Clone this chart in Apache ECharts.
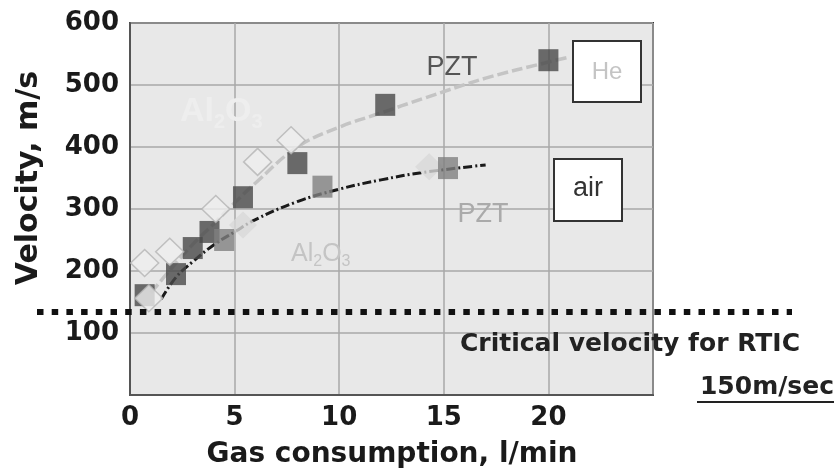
<!DOCTYPE html>
<html>
<head>
<meta charset="utf-8">
<script src="https://cdn.jsdelivr.net/npm/echarts@6/dist/echarts.min.js"></script>
<style>
  html, body { margin: 0; padding: 0; background: #ffffff; }
  #chart { width: 835px; height: 473px; }
</style>
</head>
<body>
<div id="chart"></div>
<script>
// ---- data ----
const xTicks = [0, 5, 10, 15, 20];
const yTicks = [100, 200, 300, 400, 500, 600];

// He carrier gas, Al2O3 (hollow diamonds)
const heAl2o3X = [0.9, 0.7, 1.9, 4.1, 6.1, 7.7];
const heAl2o3Y = [156, 213, 231, 300, 376, 411];
// air carrier gas, Al2O3 (light grey diamonds)
const airAl2o3X = [5.4, 14.3];
const airAl2o3Y = [274, 368];
// He carrier gas, PZT (dark squares)
const hePztX = [0.7, 2.2, 3.0, 3.8, 5.4, 8.0, 12.2, 20.0];
const hePztY = [161, 195, 237, 263, 319, 374, 468, 540];
// air carrier gas, PZT (grey squares)
const airPztX = [4.5, 9.2, 15.2];
const airPztY = [250, 336, 366];

// hand-drawn trend curves
const heFitX = [1, 2, 3, 4, 5, 6, 8, 10, 12, 14, 17, 20, 21];
const heFitY = [165, 205, 243, 276, 310, 342, 400, 432, 455, 478, 511, 537, 545];
const airFitX = [1.5, 2.2, 3, 4, 5, 6, 8, 10, 12, 14, 17];
const airFitY = [155, 190, 215, 242, 263, 283, 312, 332, 347, 359, 371];

const criticalVelocity = 134;

const pairs = (xs, ys) => xs.map((x, i) => [x, ys[i]]);

const chart = echarts.init(document.getElementById('chart'), null, { renderer: 'canvas' });
const FONT = '"Liberation Sans", Arial, sans-serif';
const BFONT = '"DejaVu Sans", Verdana, sans-serif';

const option = {
  animation: false,
  backgroundColor: '#ffffff',
  grid: {
    left: 130, right: 182, top: 23, bottom: 78,
    show: true, backgroundColor: '#e8e8e8', borderColor: '#333333', borderWidth: 2
  },
  xAxis: {
    type: 'value', min: 0, max: 25, interval: 5,
    axisLine: { show: true, lineStyle: { color: '#555555', width: 2 } },
    axisTick: { show: false },
    splitLine: { show: true, lineStyle: { color: '#a8a8a8', width: 1.5 } },
    axisLabel: {
      margin: 10, color: '#1a1a1a', fontFamily: BFONT, fontWeight: 'bold', fontSize: 26,
      formatter: v => xTicks.includes(v) ? String(v) : ''
    }
  },
  yAxis: {
    type: 'value', min: 0, max: 600, interval: 100,
    axisLine: { show: true, lineStyle: { color: '#555555', width: 2 } },
    axisTick: { show: false },
    splitLine: { show: true, lineStyle: { color: '#a8a8a8', width: 1.5 } },
    axisLabel: {
      margin: 11, color: '#1a1a1a', fontFamily: BFONT, fontWeight: 'bold', fontSize: 26,
      formatter: v => yTicks.includes(v) ? String(v) : ''
    }
  },
  series: [
    {
      type: 'line', data: pairs(heFitX, heFitY), smooth: 0.4, showSymbol: false, z: 1,
      lineStyle: { color: '#c4c4c4', width: 3.5, type: [11, 4] }
    },
    {
      type: 'line', data: pairs(airFitX, airFitY), smooth: 0.4, showSymbol: false, z: 1,
      lineStyle: { color: '#1a1a1a', width: 3, type: [9, 3, 2, 3] }
    },
    {
      type: 'scatter', data: pairs(airAl2o3X, airAl2o3Y), symbol: 'diamond', symbolSize: [28, 27], z: 3,
      itemStyle: { color: '#d8d8d8' }
    },
    {
      type: 'scatter', data: pairs(hePztX, hePztY), symbol: 'rect', symbolSize: [20, 22], z: 4,
      itemStyle: { color: '#484848' }
    },
    {
      type: 'scatter', data: pairs(airPztX, airPztY), symbol: 'rect', symbolSize: [20, 22], z: 4,
      itemStyle: { color: '#808080' }
    },
    {
      type: 'scatter', data: pairs(heAl2o3X, heAl2o3Y), symbol: 'diamond', symbolSize: [28, 27], z: 5,
      itemStyle: { color: '#eeeeee', borderColor: '#b4b4b4', borderWidth: 1.5 }
    }
  ]
};
chart.setOption(option);

const yc = chart.convertToPixel({ gridIndex: 0 }, [0, criticalVelocity])[1];

chart.setOption({
  graphic: [
    { type: 'text', x: 29, y: 178, rotation: Math.PI / 2, z: 10,
      style: { text: 'Velocity, m/s', fill: '#1a1a1a', font: 'bold 30px ' + BFONT, align: 'center', verticalAlign: 'middle' } },
    { type: 'text', x: 392, y: 455, z: 10,
      style: { text: 'Gas consumption, l/min', fill: '#1a1a1a', font: 'bold 28px ' + BFONT, align: 'center', verticalAlign: 'middle' } },
    // critical velocity dotted line
    { type: 'line', z: 20, shape: { x1: 37, y1: yc, x2: 792, y2: yc },
      style: { stroke: '#111111', lineWidth: 6, lineDash: [6.5, 8.2], lineCap: 'butt' } },
    { type: 'text', x: 800, y: 344, z: 20,
      style: { text: 'Critical velocity for RTIC', fill: '#222222', font: 'bold 25px ' + BFONT, align: 'right', verticalAlign: 'middle' } },
    { type: 'text', x: 834, y: 387, z: 20,
      style: { text: '150m/sec', fill: '#222222', font: 'bold 25px ' + BFONT, align: 'right', verticalAlign: 'middle' } },
    { type: 'line', z: 20, shape: { x1: 697, y1: 402, x2: 834, y2: 402 },
      style: { stroke: '#222222', lineWidth: 2 } },
    // labels inside plot
    { type: 'text', x: 452, y: 68, z: 10,
      style: { text: 'PZT', fill: '#555555', font: '27px ' + FONT, align: 'center', verticalAlign: 'middle' } },
    { type: 'text', x: 483, y: 215, z: 10,
      style: { text: 'PZT', fill: '#aaaaaa', font: '27px ' + FONT, align: 'center', verticalAlign: 'middle' } },
    { type: 'text', x: 291, y: 254, z: 10,
      style: {
        text: '{a|Al}{s|2}{a|O}{s|3}', verticalAlign: 'middle',
        rich: {
          a: { fill: '#c4c4c4', font: '25px ' + FONT },
          s: { fill: '#c4c4c4', font: '16px ' + FONT, padding: [16, 0, 0, 0] }
        }
      } },
    { type: 'text', x: 180, y: 112, z: 2,
      style: {
        text: '{a|Al}{s|2}{a|O}{s|3}', verticalAlign: 'middle',
        rich: {
          a: { fill: '#eeeeee', font: 'bold 34px ' + FONT },
          s: { fill: '#eeeeee', font: 'bold 20px ' + FONT, padding: [20, 0, 0, 0] }
        }
      } },
    // He / air boxes
    { type: 'rect', z: 10, shape: { x: 573, y: 41, width: 68, height: 61 },
      style: { fill: '#ffffff', stroke: '#333333', lineWidth: 2 } },
    { type: 'text', x: 607, y: 72, z: 11,
      style: { text: 'He', fill: '#c4c4c4', font: '24px ' + FONT, align: 'center', verticalAlign: 'middle' } },
    { type: 'rect', z: 10, shape: { x: 554, y: 159, width: 68, height: 62 },
      style: { fill: '#ffffff', stroke: '#333333', lineWidth: 2 } },
    { type: 'text', x: 588, y: 189, z: 11,
      style: { text: 'air', fill: '#333333', font: '27px ' + FONT, align: 'center', verticalAlign: 'middle' } }
  ]
});
</script>
</body>
</html>
